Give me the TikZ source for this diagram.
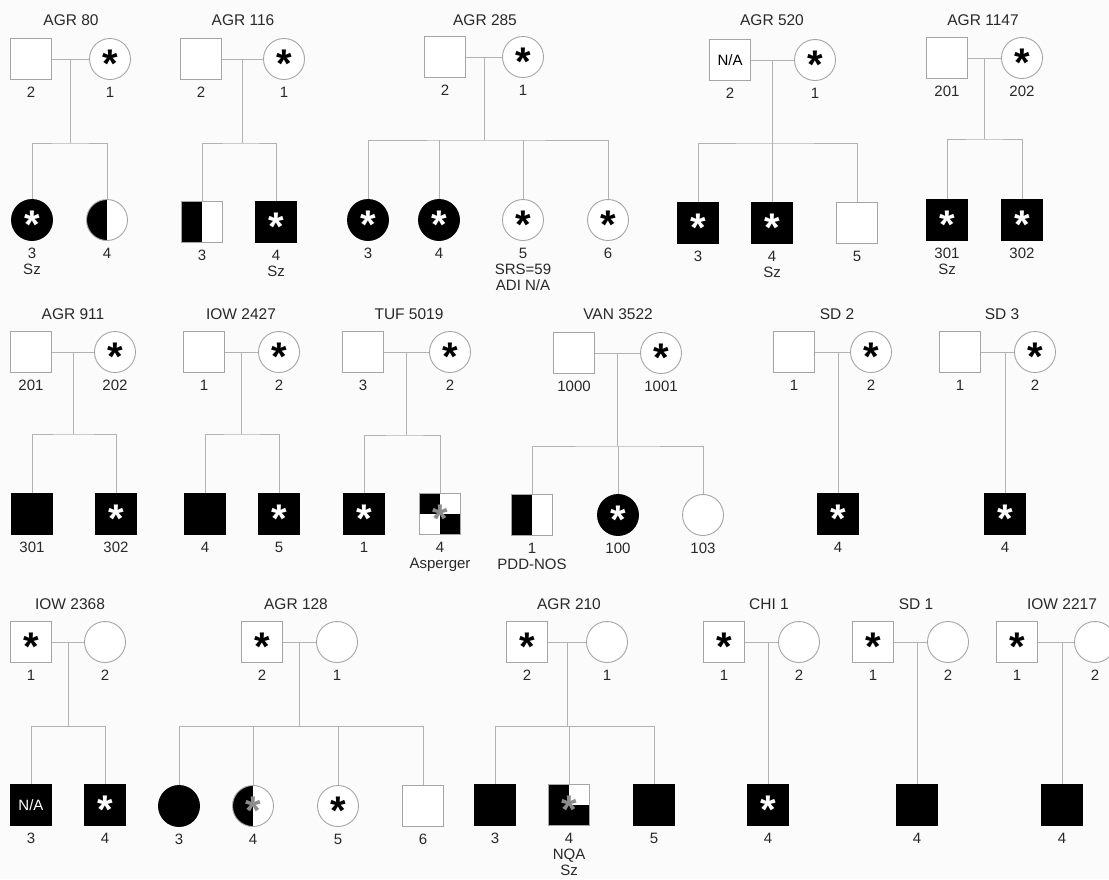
\documentclass[tikz,border=0pt]{standalone}
\usepackage{fontspec}
\setmainfont{Liberation Sans}
\usepackage{tikz}
\usetikzlibrary{positioning}
\definecolor{pedgray}{RGB}{165,165,165}
\definecolor{linegray}{RGB}{178,178,178}
\definecolor{stargray}{RGB}{140,140,140}
\definecolor{pedbg}{RGB}{251,251,251}
\definecolor{pedtext}{RGB}{40,40,40}
\newcommand{\pstar}{{\fontsize{40}{40}\selectfont\bfseries\smash{\raisebox{-0.46em}{*}}}}
\newcommand{\pedna}{{\fontsize{15}{15}\selectfont N/A}}
\newcommand{\pedind}[6]{%
  \node[#2] (#1) at (#3,#4) {#5};%
  \node[pedid,below=7pt of #1] (#1id) {#6};%
}
\newcommand{\pedmate}[3]{%
  \draw[pedline] (#2) -- coordinate (#1) (#3);%
}
\newcommand{\pedsibs}[4]{%
  \coordinate (#1s) at (#1 |- 0,#2);%
  \draw[pedline] (#1) -- (#1s);%
  \draw[pedline] (#3) |- (#1s) -| (#4);%
}
\newcommand{\pedkid}[2]{%
  \draw[pedline] (#2) -- (#2 |- #1);%
}
\tikzset{
  pedline/.style={draw=linegray,line width=0.9pt},
  pedbox/.style={draw=pedgray,fill=white,line width=0.9pt,inner sep=0pt,minimum size=41pt},
  male/.style={pedbox,rectangle},
  female/.style={pedbox,circle},
  aff/.style={fill=black,draw=black},
  wst/.style={text=white},
  gst/.style={text=stargray},
  lefthalf/.style={path picture={\fill[black] (path picture bounding box.south west) rectangle (path picture bounding box.north);}},
  checker/.style={path picture={\fill[black] (path picture bounding box.north west) rectangle (path picture bounding box.center);
      \fill[black] (path picture bounding box.center) rectangle (path picture bounding box.south east);}},
  notchtr/.style={path picture={\fill[black] (path picture bounding box.south west) rectangle (path picture bounding box.north);
      \fill[black] (path picture bounding box.south west) rectangle (path picture bounding box.east);}},
  pedid/.style={font=\fontsize{15}{16}\selectfont,text=pedtext,align=center,inner sep=0pt},
  famtitle/.style={font=\fontsize{15.5}{17}\selectfont,text=pedtext,inner sep=0pt}
}

\begin{document}
\begin{tikzpicture}[x=1pt,y=-1pt]
  \fill[pedbg] (0,0) rectangle (1109,879);
  \useasboundingbox (0,0) rectangle (1109,879);
  % row 1
  \node[famtitle] (a80t) at (71,20) {AGR 80};
  \pedind{a80f}{male}{31}{59}{}{2}
  \pedind{a80m}{female}{110}{59}{\pstar}{1}
  \pedind{a80c3}{female,aff,wst}{32}{220}{\pstar}{3\\Sz}
  \pedind{a80c4}{female,lefthalf}{107}{220}{}{4}
  \pedmate{a80}{a80f}{a80m}
  \pedsibs{a80}{143}{a80c3}{a80c4}

  \node[famtitle] (a116t) at (243,20) {AGR 116};
  \pedind{a116f}{male}{201}{59}{}{2}
  \pedind{a116m}{female}{284}{59}{\pstar}{1}
  \pedind{a116c3}{male,lefthalf}{202}{222}{}{3}
  \pedind{a116c4}{male,aff,wst}{276}{222}{\pstar}{4\\Sz}
  \pedmate{a116}{a116f}{a116m}
  \pedsibs{a116}{143}{a116c3}{a116c4}

  \node[famtitle] (a285t) at (485,20) {AGR 285};
  \pedind{a285f}{male}{445}{57}{}{2}
  \pedind{a285m}{female}{523}{57}{\pstar}{1}
  \pedind{a285c3}{female,aff,wst}{368}{220}{\pstar}{3}
  \pedind{a285c4}{female,aff,wst}{439}{220}{\pstar}{4}
  \pedind{a285c5}{female}{523}{220}{\pstar}{5\\SRS=59\\ADI N/A}
  \pedind{a285c6}{female}{608}{220}{\pstar}{6}
  \pedmate{a285}{a285f}{a285m}
  \pedsibs{a285}{140}{a285c3}{a285c6}
  \pedkid{a285s}{a285c4}
  \pedkid{a285s}{a285c5}

  \node[famtitle] (a520t) at (772,20) {AGR 520};
  \pedind{a520f}{male}{730}{60}{\pedna}{2}
  \pedind{a520m}{female}{815}{60}{\pstar}{1}
  \pedind{a520c3}{male,aff,wst}{698}{223}{\pstar}{3}
  \pedind{a520c4}{male,aff,wst}{772}{223}{\pstar}{4\\Sz}
  \pedind{a520c5}{male}{857}{223}{}{5}
  \pedmate{a520}{a520f}{a520m}
  \pedsibs{a520}{143}{a520c3}{a520c5}
  \pedkid{a520s}{a520c4}

  \node[famtitle] (a1147t) at (983,20) {AGR 1147};
  \pedind{a1147f}{male}{947}{58}{}{201}
  \pedind{a1147m}{female}{1022}{58}{\pstar}{202}
  \pedind{a1147c1}{male,aff,wst}{947}{220}{\pstar}{301\\Sz}
  \pedind{a1147c2}{male,aff,wst}{1022}{220}{\pstar}{302}
  \pedmate{a1147}{a1147f}{a1147m}
  \pedsibs{a1147}{139}{a1147c1}{a1147c2}

  % row 2
  \node[famtitle] (a911t) at (73,314) {AGR 911};
  \pedind{a911f}{male}{31}{352}{}{201}
  \pedind{a911m}{female}{115}{352}{\pstar}{202}
  \pedind{a911c1}{male,aff}{32}{514}{}{301}
  \pedind{a911c2}{male,aff,wst}{116}{514}{\pstar}{302}
  \pedmate{a911}{a911f}{a911m}
  \pedsibs{a911}{434}{a911c1}{a911c2}

  \node[famtitle] (i2427t) at (241,314) {IOW 2427};
  \pedind{i2427f}{male}{204}{352}{}{1}
  \pedind{i2427m}{female}{279}{352}{\pstar}{2}
  \pedind{i2427c4}{male,aff}{205}{514}{}{4}
  \pedind{i2427c5}{male,aff,wst}{279}{514}{\pstar}{5}
  \pedmate{i2427}{i2427f}{i2427m}
  \pedsibs{i2427}{434}{i2427c4}{i2427c5}

  \node[famtitle] (t5019t) at (409,314) {TUF 5019};
  \pedind{t5019f}{male}{363}{352}{}{3}
  \pedind{t5019m}{female}{450}{352}{\pstar}{2}
  \pedind{t5019c1}{male,aff,wst}{364}{514}{\pstar}{1}
  \pedind{t5019c4}{male,checker,gst}{440}{514}{\pstar}{4\\Asperger}
  \pedmate{t5019}{t5019f}{t5019m}
  \pedsibs{t5019}{435}{t5019c1}{t5019c4}

  \node[famtitle] (v3522t) at (618,314) {VAN 3522};
  \pedind{v3522f}{male}{574}{353}{}{1000}
  \pedind{v3522m}{female}{661}{353}{\pstar}{1001}
  \pedind{v3522c1}{male,lefthalf}{532}{515}{}{1\\PDD-NOS}
  \pedind{v3522c100}{female,aff,wst}{618}{515}{\pstar}{100}
  \pedind{v3522c103}{female}{703}{515}{}{103}
  \pedmate{v3522}{v3522f}{v3522m}
  \pedsibs{v3522}{446}{v3522c1}{v3522c103}
  \pedkid{v3522s}{v3522c100}

  \node[famtitle] (sd2t) at (837,314) {SD 2};
  \pedind{sd2f}{male}{794}{352}{}{1}
  \pedind{sd2m}{female}{871}{352}{\pstar}{2}
  \pedind{sd2c4}{male,aff,wst}{838}{514}{\pstar}{4}
  \pedmate{sd2}{sd2f}{sd2m}
  \pedkid{sd2}{sd2c4}

  \node[famtitle] (sd3t) at (1002,314) {SD 3};
  \pedind{sd3f}{male}{960}{352}{}{1}
  \pedind{sd3m}{female}{1035}{352}{\pstar}{2}
  \pedind{sd3c4}{male,aff,wst}{1005}{514}{\pstar}{4}
  \pedmate{sd3}{sd3f}{sd3m}
  \pedkid{sd3}{sd3c4}

  % row 3
  \node[famtitle] (i2368t) at (70,604) {IOW 2368};
  \pedind{i2368f}{male}{31}{642}{\pstar}{1}
  \pedind{i2368m}{female}{105}{642}{}{2}
  \pedind{i2368c3}{male,aff,wst}{31}{805}{\pedna}{3}
  \pedind{i2368c4}{male,aff,wst}{105}{805}{\pstar}{4}
  \pedmate{i2368}{i2368f}{i2368m}
  \pedsibs{i2368}{726}{i2368c3}{i2368c4}

  \node[famtitle] (a128t) at (296,604) {AGR 128};
  \pedind{a128f}{male}{262}{642}{\pstar}{2}
  \pedind{a128m}{female}{337}{642}{}{1}
  \pedind{a128c3}{female,aff}{179}{806}{}{3}
  \pedind{a128c4}{female,lefthalf,gst}{253}{806}{\pstar}{4}
  \pedind{a128c5}{female}{338}{806}{\pstar}{5}
  \pedind{a128c6}{male}{423}{806}{}{6}
  \pedmate{a128}{a128f}{a128m}
  \pedsibs{a128}{726}{a128c3}{a128c6}
  \pedkid{a128s}{a128c4}
  \pedkid{a128s}{a128c5}

  \node[famtitle] (a210t) at (569,604) {AGR 210};
  \pedind{a210f}{male}{527}{642}{\pstar}{2}
  \pedind{a210m}{female}{607}{642}{}{1}
  \pedind{a210c3}{male,aff}{495}{805}{}{3}
  \pedind{a210c4}{male,notchtr,gst}{569}{805}{\pstar}{4\\NQA\\Sz}
  \pedind{a210c5}{male,aff}{654}{805}{}{5}
  \pedmate{a210}{a210f}{a210m}
  \pedsibs{a210}{726}{a210c3}{a210c5}
  \pedkid{a210s}{a210c4}

  \node[famtitle] (c1t) at (769,604) {CHI 1};
  \pedind{c1f}{male}{724}{642}{\pstar}{1}
  \pedind{c1m}{female}{799}{642}{}{2}
  \pedind{c1c4}{male,aff,wst}{768}{805}{\pstar}{4}
  \pedmate{c1}{c1f}{c1m}
  \pedkid{c1}{c1c4}

  \node[famtitle] (sd1t) at (916,604) {SD 1};
  \pedind{sd1f}{male}{873}{642}{\pstar}{1}
  \pedind{sd1m}{female}{948}{642}{}{2}
  \pedind{sd1c4}{male,aff}{917}{805}{}{4}
  \pedmate{sd1}{sd1f}{sd1m}
  \pedkid{sd1}{sd1c4}

  \node[famtitle] (i2217t) at (1062,604) {IOW 2217};
  \pedind{i2217f}{male}{1017}{642}{\pstar}{1}
  \pedind{i2217m}{female}{1095}{642}{}{2}
  \pedind{i2217c4}{male,aff}{1062}{805}{}{4}
  \pedmate{i2217}{i2217f}{i2217m}
  \pedkid{i2217}{i2217c4}
\end{tikzpicture}
\end{document}
